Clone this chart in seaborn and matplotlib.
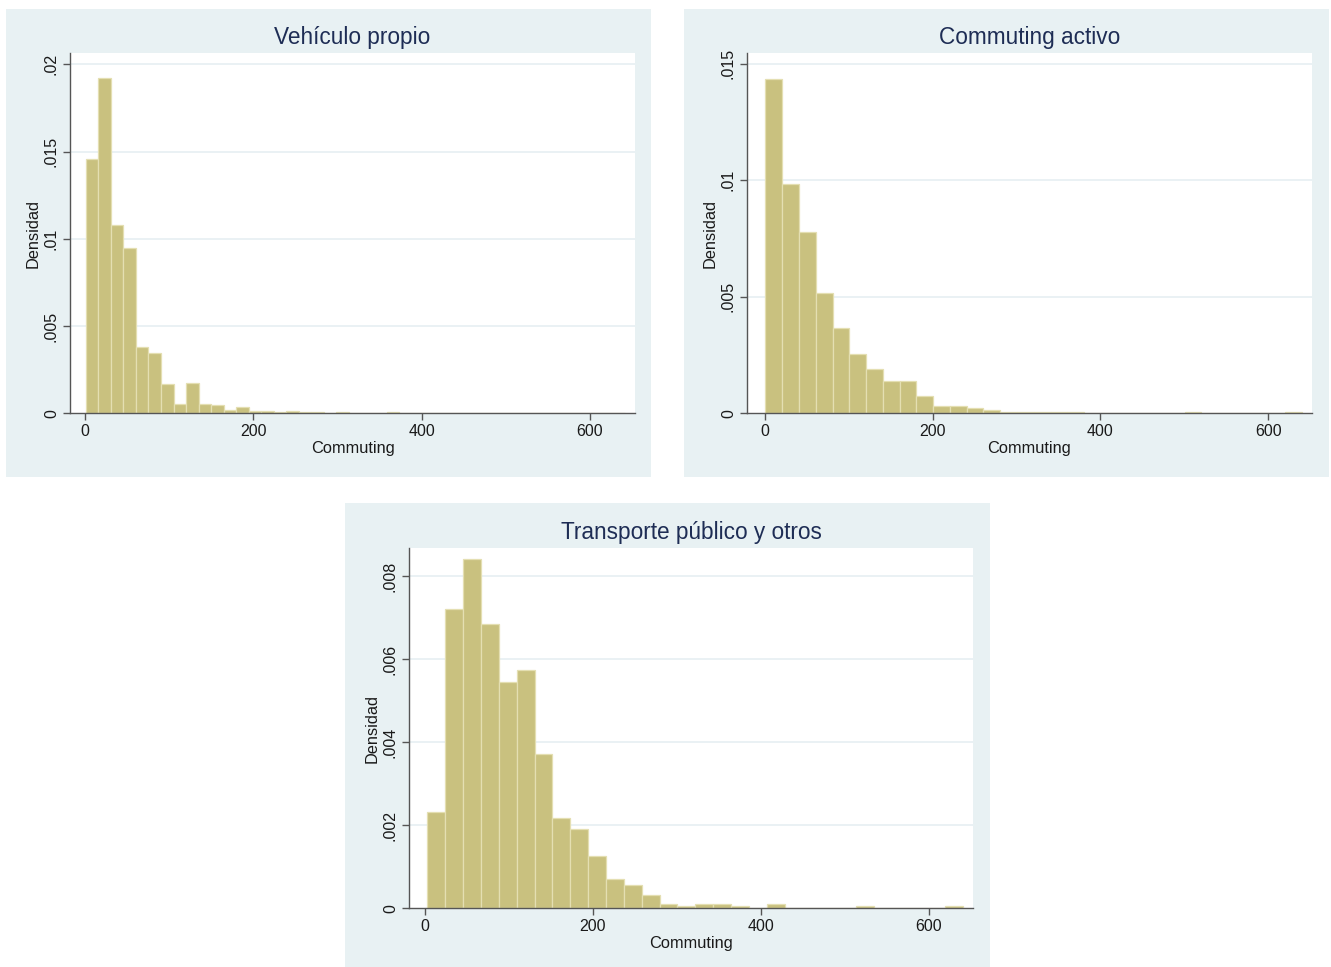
import numpy as np
import pandas as pd
import matplotlib
matplotlib.use("Agg")
import matplotlib.pyplot as plt
from matplotlib.patches import Rectangle
import seaborn as sns

# ---------------- data ----------------
titles = ["Vehículo propio", "Commuting activo", "Transporte público y otros"]

veh_start, veh_width = 1.0, 14.884
veh_density = [0.01456, 0.01924, 0.01078, 0.00945, 0.00380, 0.00347, 0.00168, 0.00055,
               0.00172, 0.00052, 0.00048, 0.00021, 0.00034, 0.00015, 0.00015, 0.00006,
               0.00015, 0.00008, 0.00008, 0.00004, 0.00008, 0.00004, 0.00004, 0.00004,
               0.00008, 0.00003, 0.00003, 0.00003, 0.00003, 0.00003, 0.00003, 0.0,
               0.00003, 0.00003, 0.00003, 0.00003, 0.00003, 0.0, 0.0, 0.00003,
               0.00003, 0.0, 0.00003]

act_start, act_width = 0.5, 20.0
act_density = [0.01433, 0.00986, 0.00779, 0.00517, 0.00364, 0.00256, 0.00189, 0.00139,
               0.00139, 0.00073, 0.00031, 0.00031, 0.00022, 0.00015, 0.00004, 0.00004,
               0.00007, 0.00004, 0.00007, 0.0, 0.0, 0.0, 0.0, 0.0,
               0.0, 0.00004, 0.0, 0.0, 0.0, 0.0, 0.0, 0.00004]

pub_start, pub_width = 2.8, 21.27
pub_density = [0.00231, 0.00722, 0.00842, 0.00685, 0.00546, 0.00574, 0.00371, 0.00218,
               0.00190, 0.00126, 0.00070, 0.00055, 0.00032, 0.00010, 0.00005, 0.00010,
               0.00010, 0.00005, 0.0, 0.00010, 0.0, 0.0, 0.0, 0.0,
               0.00005, 0.0, 0.0, 0.0, 0.0, 0.00005]

x_ticks = [0, 200, 400, 600]
x_ticklabels = ["0", "200", "400", "600"]
veh_yticks = [0, 0.005, 0.01, 0.015, 0.02]
veh_yticklabels = ["0", ".005", ".01", ".015", ".02"]
act_yticks = [0, 0.005, 0.01, 0.015]
act_yticklabels = ["0", ".005", ".01", ".015"]
pub_yticks = [0, 0.002, 0.004, 0.006, 0.008]
pub_yticklabels = ["0", ".002", ".004", ".006", ".008"]

x_label = "Commuting"
y_label = "Densidad"

# ---------------- style ----------------
sns.set_theme(style="white")
plt.rcParams["font.family"] = ["Liberation Sans", "DejaVu Sans"]

W, H = 1331, 967
fig = plt.figure(figsize=(W / 100, H / 100), dpi=100)
fig.patch.set_facecolor("white")

panel_bg = "#E8F1F3"
grid_c = "#E6EFF2"
bar_c = "#C9C17F"
edge_c = "#E4DFB2"
title_c = "#1E2D55"
axis_c = "#555555"
text_c = "#1a1a1a"


def px_rect(x0, y0, x1, y1):
    return [x0 / W, 1 - y1 / H, (x1 - x0) / W, (y1 - y0) / H]


panels = [
    dict(bg=(6, 9, 651, 477), ax=(70, 53.3, 635, 413.3), start=veh_start, width=veh_width,
         dens=veh_density, yt=veh_yticks, ytl=veh_yticklabels, xlim=(-17.8, 653.4), ylim=(0, 0.02063)),
    dict(bg=(684, 9, 1329, 477), ax=(747, 53.3, 1312, 413.3), start=act_start, width=act_width,
         dens=act_density, yt=act_yticks, ytl=act_yticklabels, xlim=(-21.5, 652.4), ylim=(0, 0.01545)),
    dict(bg=(345, 503, 990, 967), ax=(409, 548.3, 973, 908.3), start=pub_start, width=pub_width,
         dens=pub_density, yt=pub_yticks, ytl=pub_yticklabels, xlim=(-19.0, 652.4), ylim=(0, 0.008675)),
]

for p, title in zip(panels, titles):
    bx0, by0, bx1, by1 = p["bg"]
    fig.patches.append(Rectangle((bx0 / W, 1 - by1 / H), (bx1 - bx0) / W, (by1 - by0) / H,
                                 transform=fig.transFigure, facecolor=panel_bg,
                                 edgecolor="none", zorder=-5))
    ax = fig.add_axes(px_rect(*p["ax"]))
    ax.set_zorder(2)
    ax.set_facecolor("white")
    n = len(p["dens"])
    lo = p["start"]
    hi = p["start"] + p["width"] * n
    centers = lo + p["width"] * (np.arange(n) + 0.5)
    df = pd.DataFrame({"x": centers, "w": p["dens"]})
    sns.histplot(data=df, x="x", weights="w", bins=n, binrange=(lo, hi), stat="count", ax=ax,
                 color=bar_c, edgecolor=edge_c, linewidth=0.9, alpha=1, zorder=3)
    ax.set_xlim(*p["xlim"])
    ax.set_ylim(*p["ylim"])
    ax.set_xticks(x_ticks)
    ax.set_xticklabels(x_ticklabels, fontsize=11.5)
    ax.set_yticks(p["yt"])
    ax.set_yticklabels(p["ytl"], fontsize=11.5, rotation=90, va="center")
    for y in p["yt"][1:]:
        ax.axhline(y, color=grid_c, linewidth=1.2, zorder=1)
    for s in ["top", "right"]:
        ax.spines[s].set_visible(False)
    for s in ["left", "bottom"]:
        ax.spines[s].set_color(axis_c)
        ax.spines[s].set_linewidth(1.0)
        ax.spines[s].set_zorder(5)
    ax.tick_params(axis="both", direction="out", length=5, width=1, color=axis_c,
                   labelcolor=text_c, bottom=True, left=True, pad=3)
    ax.set_xlabel(x_label, fontsize=11.8, labelpad=1.5, color=text_c)
    ax.set_ylabel(y_label, fontsize=11.8, labelpad=2, color=text_c)
    ax.set_title(title, fontsize=16.3, color=title_c, pad=6.5)

fig.savefig("out.png", dpi=100, facecolor="white")
